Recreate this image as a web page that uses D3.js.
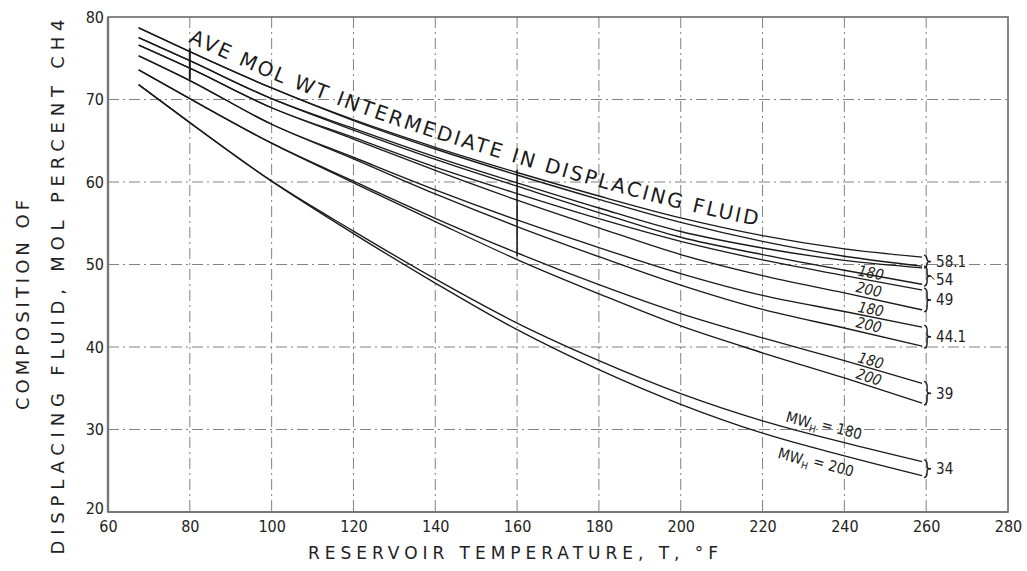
<!DOCTYPE html>
<html>
<head>
<meta charset="utf-8">
<script src="https://cdn.jsdelivr.net/npm/d3@7"></script>
<style>
  body { margin: 0; background: #fff; }
  svg { display: block; }
</style>
</head>
<body>
<svg id="chart" width="1027" height="571"></svg>
<script>
// reservoir temperature (deg F) at which the curves were read
const temps = [67.5, 80, 100, 120, 140, 160, 180, 200, 220, 240, 259];
const xTicks = [60, 80, 100, 120, 140, 160, 180, 200, 220, 240, 260, 280];
const yTicks = [20, 30, 40, 50, 60, 70, 80];

// mol percent CH4, one array per (ave mol wt intermediate, MW heavy)
const ch_581_180 = [78.7, 75.8, 71.4, 67.55, 64.2, 61.15, 58.3, 55.65, 53.5, 51.9, 50.9];
const ch_581_200 = [78.7, 75.8, 71.4, 67.45, 64.0, 60.85, 57.9, 55.1, 52.8, 51.0, 49.8];
const ch_54_180 = [77.5, 74.7, 70.1, 66.5, 63.05, 59.9, 56.85, 54.0, 52.0, 50.5, 49.6];
const ch_54_200 = [77.5, 74.7, 70.1, 66.3, 62.75, 59.5, 56.3, 53.3, 51.2, 49.3, 47.6];
const ch_49_180 = [76.6, 73.8, 69.0, 65.4, 61.8, 58.6, 55.55, 52.8, 50.55, 48.65, 46.9];
const ch_49_200 = [76.6, 73.8, 69.0, 65.2, 61.4, 57.8, 54.45, 51.2, 48.65, 46.55, 44.5];
const ch_441_180 = [75.3, 72.3, 67.0, 63.0, 59.05, 55.4, 52.05, 48.9, 46.25, 44.3, 42.4];
const ch_441_200 = [75.3, 72.3, 67.0, 62.8, 58.55, 54.6, 50.95, 47.5, 44.55, 42.3, 40.1];
const ch_39_180 = [73.6, 70.1, 64.7, 60.1, 55.6, 51.4, 47.55, 44.05, 41.1, 38.35, 35.6];
const ch_39_200 = [73.6, 70.1, 64.7, 59.9, 55.2, 50.6, 46.45, 42.55, 39.3, 36.25, 33.2];
const ch_34_180 = [71.8, 67.2, 60.1, 54.05, 48.25, 42.9, 38.35, 34.35, 31.05, 28.4, 26.1];
const ch_34_200 = [71.8, 67.2, 60.1, 53.75, 47.75, 42.1, 37.25, 33.05, 29.55, 26.8, 24.4];

const groupNames = ['58.1', '54', '49', '44.1', '39', '34'];
const groupCurves = [
  [ch_581_180, ch_581_200],
  [ch_54_180, ch_54_200],
  [ch_49_180, ch_49_200],
  [ch_441_180, ch_441_200],
  [ch_39_180, ch_39_200],
  [ch_34_180, ch_34_200]
];

const ink = '#1b1b1b';
const tickFont = "'DejaVu Sans Condensed', 'DejaVu Sans', sans-serif";
const letterFont = "'DejaVu Sans', 'Liberation Sans', sans-serif";

const svg = d3.select('#chart');

const x = d3.scaleLinear().domain([60, 280]).range([108, 1008]);
const y = d3.scaleLinear().domain([20, 80]).range([512, 17]);

// grid (dash-dot, like the drafting paper)
const grid = svg.append('g')
  .attr('stroke', '#3a3a3a')
  .attr('stroke-width', 0.9)
  .attr('stroke-dasharray', '11,4,2,4')
  .attr('opacity', 0.7);

grid.selectAll('line.v')
  .data(xTicks.filter(t => t > 60 && t < 280))
  .join('line')
  .attr('class', 'v')
  .attr('x1', d => x(d)).attr('x2', d => x(d))
  .attr('y1', y(80)).attr('y2', y(20));

grid.selectAll('line.h')
  .data(yTicks.filter(t => t > 20 && t < 80))
  .join('line')
  .attr('class', 'h')
  .attr('x1', x(60)).attr('x2', x(280))
  .attr('y1', d => y(d)).attr('y2', d => y(d));

// darker stretches of the grid where the original ink is heavy
svg.append('line')
  .attr('x1', x(80)).attr('x2', x(80))
  .attr('y1', y(76.2)).attr('y2', y(72.4))
  .attr('stroke', ink).attr('stroke-width', 2);
svg.append('line')
  .attr('x1', x(160)).attr('x2', x(160))
  .attr('y1', y(61.5)).attr('y2', y(51))
  .attr('stroke', ink).attr('stroke-width', 1.6);

// frame
svg.append('rect')
  .attr('x', x(60)).attr('y', y(80))
  .attr('width', x(280) - x(60)).attr('height', y(20) - y(80))
  .attr('fill', 'none').attr('stroke', '#6a6a6a').attr('stroke-width', 1.6);
svg.append('line')
  .attr('x1', x(60)).attr('x2', x(60)).attr('y1', y(80)).attr('y2', y(20))
  .attr('stroke', '#777').attr('stroke-width', 2.4);
svg.append('line')
  .attr('x1', x(60)).attr('x2', x(280)).attr('y1', y(20)).attr('y2', y(20))
  .attr('stroke', '#777').attr('stroke-width', 2.2);

// axes (labels only, no tick marks)
const xAxis = svg.append('g')
  .attr('transform', `translate(0,${y(20)})`)
  .call(d3.axisBottom(x).tickValues(xTicks).tickSize(0).tickPadding(6).tickFormat(d3.format('d')));
const yAxis = svg.append('g')
  .attr('transform', `translate(${x(60)},0)`)
  .call(d3.axisLeft(y).tickValues(yTicks).tickSize(0).tickPadding(4).tickFormat(d3.format('d')));

[xAxis, yAxis].forEach(a => {
  a.select('.domain').remove();
  a.selectAll('text')
    .attr('fill', '#222')
    .style('font-family', tickFont)
    .style('font-size', '16px');
});
xAxis.selectAll('text').attr('dy', '0.85em');
yAxis.selectAll('text').filter(d => d === 20).attr('dy', '0.1em');

// curves
const line = d3.line()
  .x((d, i) => x(temps[i]))
  .y(d => y(d))
  .curve(d3.curveMonotoneX);

const curveG = svg.append('g')
  .attr('fill', 'none')
  .attr('stroke', ink)
  .attr('stroke-width', 1.35);

groupCurves.forEach(pair => {
  pair.forEach(vals => {
    curveG.append('path').attr('d', line(vals));
  });
});

// helpers to locate a point on a curve in pixel space
function pointAt(vals, t) {
  const i = Math.max(1, Math.min(temps.length - 1, d3.bisectLeft(temps, t)));
  const t0 = temps[i - 1], t1 = temps[i];
  const k = (t - t0) / (t1 - t0);
  const v = vals[i - 1] + (vals[i] - vals[i - 1]) * k;
  const ang = Math.atan2(y(vals[i]) - y(vals[i - 1]), x(t1) - x(t0)) * 180 / Math.PI;
  return { px: x(t), py: y(v), ang };
}

// brackets and group labels at the right end
const endIdx = temps.length - 1;
const xb = x(temps[endIdx]) + 5;
const brG = svg.append('g');
let lastLabelY = -Infinity;
groupCurves.forEach((pair, gi) => {
  const yA = y(pair[0][endIdx]);
  const yB = y(pair[1][endIdx]);
  const mid = (yA + yB) / 2;
  const p = d3.path();
  p.moveTo(xb - 3, yA - 2);
  p.quadraticCurveTo(xb, yA - 1, xb, yA + 3);
  p.lineTo(xb, mid - 2);
  p.quadraticCurveTo(xb, mid, xb + 4, mid);
  p.quadraticCurveTo(xb, mid, xb, mid + 2);
  p.lineTo(xb, yB - 3);
  p.quadraticCurveTo(xb, yB + 1, xb - 3, yB + 2);
  brG.append('path')
    .attr('d', p.toString())
    .attr('fill', 'none')
    .attr('stroke', ink)
    .attr('stroke-width', 1.4);
  // keep stacked labels from touching
  const ly = Math.max(mid, lastLabelY + 18);
  lastLabelY = ly;
  if (ly - mid > 2) {
    brG.append('line')
      .attr('x1', xb + 4).attr('y1', mid)
      .attr('x2', xb + 7).attr('y2', ly)
      .attr('stroke', ink).attr('stroke-width', 1);
  }
  brG.append('text')
    .attr('x', xb + 9)
    .attr('y', ly)
    .attr('dy', '0.36em')
    .attr('fill', '#222')
    .style('font-family', tickFont)
    .style('font-size', '15px')
    .text(groupNames[gi]);
});

// small MW heavy labels written along the curves
function curveLabel(vals, t, dy, txt, size) {
  const pt = pointAt(vals, t);
  const g = svg.append('g')
    .attr('transform', `translate(${pt.px},${pt.py + dy}) rotate(${pt.ang})`);
  return g.append('text')
    .attr('text-anchor', 'middle')
    .attr('dy', '0.36em')
    .attr('fill', '#222')
    .style('font-family', tickFont)
    .style('font-style', 'italic')
    .style('font-size', (size || 15) + 'px')
    .text(txt);
}
[[ch_49_180, ch_49_200], [ch_441_180, ch_441_200], [ch_39_180, ch_39_200]].forEach(pair => {
  curveLabel(pair[0], 246.5, -8, '180');
  curveLabel(pair[1], 246, -9, '200');
});

function mwhLabel(vals, t, dy, num) {
  const pt = pointAt(vals, t);
  const txt = svg.append('g')
    .attr('transform', `translate(${pt.px},${pt.py + dy}) rotate(${pt.ang})`)
    .append('text')
    .attr('text-anchor', 'middle')
    .attr('dy', '0.36em')
    .attr('fill', '#222')
    .style('font-family', tickFont)
    .style('font-size', '15px');
  txt.append('tspan').text('MW');
  txt.append('tspan').attr('dy', '0.35em').style('font-size', '10px').text('H');
  txt.append('tspan').attr('dy', '-0.35em').text(' = ' + num);
}
mwhLabel(ch_34_180, 235, -11, '180');
mwhLabel(ch_34_200, 233, 15, '200');

// "AVE MOL WT ..." lettering following the top curve
const offsetLine = d3.line()
  .x((d, i) => x(temps[i]))
  .y(d => y(d) - 9)
  .curve(d3.curveMonotoneX);
const guide = svg.append('path')
  .attr('id', 'aveGuide')
  .attr('d', offsetLine(ch_581_180))
  .attr('fill', 'none')
  .attr('stroke', 'none');
const gNode = guide.node();
const total = gNode.getTotalLength();
function lengthAtX(px) {
  let lo = 0, hi = total;
  for (let k = 0; k < 40; k++) {
    const m = (lo + hi) / 2;
    if (gNode.getPointAtLength(m).x < px) lo = m; else hi = m;
  }
  return lo;
}
const L0 = lengthAtX(188);
const L1 = lengthAtX(757);
svg.append('text')
  .attr('fill', '#1b1b1b')
  .style('font-family', letterFont)
  .style('font-size', '20px')
  .append('textPath')
  .attr('href', '#aveGuide')
  .attr('startOffset', L0)
  .attr('textLength', L1 - L0)
  .attr('lengthAdjust', 'spacing')
  .text('AVE  MOL  WT  INTERMEDIATE  IN  DISPLACING  FLUID');

// axis titles
svg.append('text')
  .attr('x', 513).attr('y', 559)
  .attr('text-anchor', 'middle')
  .attr('textLength', 410)
  .attr('lengthAdjust', 'spacing')
  .attr('fill', '#222')
  .style('font-family', letterFont)
  .style('font-size', '17px')
  .text('RESERVOIR  TEMPERATURE, T, °F');

svg.append('text')
  .attr('transform', 'translate(29,305) rotate(-90)')
  .attr('text-anchor', 'middle')
  .attr('textLength', 210)
  .attr('lengthAdjust', 'spacing')
  .attr('fill', '#222')
  .style('font-family', letterFont)
  .style('font-size', '18px')
  .text('COMPOSITION OF');

svg.append('text')
  .attr('transform', 'translate(64,287) rotate(-90)')
  .attr('text-anchor', 'middle')
  .attr('textLength', 535)
  .attr('lengthAdjust', 'spacing')
  .attr('fill', '#222')
  .style('font-family', letterFont)
  .style('font-size', '18px')
  .text('DISPLACING  FLUID,  MOL  PERCENT  CH4');
</script>
</body>
</html>
